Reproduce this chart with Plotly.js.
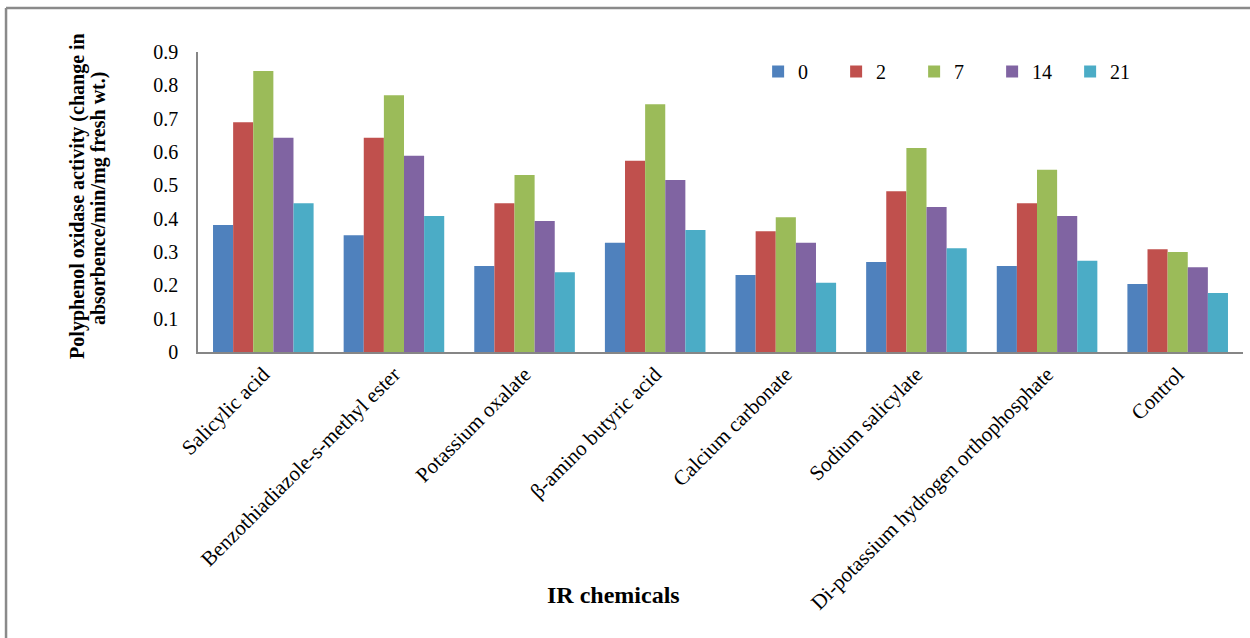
<!DOCTYPE html>
<html>
<head>
<meta charset="utf-8">
<script src="https://cdn.plot.ly/plotly-3.0.1.min.js"></script>
<style>
  html, body { margin: 0; padding: 0; background: #fff; }
  #chart { width: 1250px; height: 638px; }
</style>
</head>
<body>
<div id="chart"></div>
<script>
// IR chemicals applied
const chemicals = [
  "Salicylic acid",
  "Benzothiadiazole-s-methyl ester",
  "Potassium oxalate",
  "β-amino butyric acid",
  "Calcium carbonate",
  "Sodium salicylate",
  "Di-potassium hydrogen orthophosphate",
  "Control"
];

// Sampling days (legend entries)
const days = ["0", "2", "7", "14", "21"];

// Polyphenol oxidase activity per day
const day0  = [0.381, 0.350, 0.258, 0.328, 0.231, 0.270, 0.258, 0.204];
const day2  = [0.689, 0.643, 0.446, 0.574, 0.362, 0.482, 0.446, 0.308];
const day7  = [0.843, 0.770, 0.531, 0.743, 0.404, 0.612, 0.547, 0.300];
const day14 = [0.643, 0.589, 0.393, 0.516, 0.328, 0.435, 0.408, 0.254];
const day21 = [0.446, 0.408, 0.239, 0.366, 0.208, 0.311, 0.274, 0.177];

const seriesValues = [day0, day2, day7, day14, day21];
const colors = ["#4F81BD", "#C0504D", "#9BBB59", "#8064A2", "#4BACC6"];

const serif = "'Liberation Serif', 'Times New Roman', serif";

const traces = days.map((d, i) => ({
  type: "bar",
  name: d,
  x: chemicals,
  y: seriesValues[i],
  marker: { color: colors[i], line: { width: 0 } },
  hoverinfo: "x+y+name"
}));

const layout = {
  width: 1250,
  height: 638,
  margin: { l: 198, r: 7, t: 52, b: 286, autoexpand: false },
  paper_bgcolor: "#ffffff",
  plot_bgcolor: "#ffffff",
  barmode: "group",
  bargap: 0.23,
  bargroupgap: 0,
  showlegend: true,
  legend: {
    orientation: "h",
    x: 0.536,
    y: 1.0,
    xanchor: "left",
    yanchor: "top",
    entrywidth: 33,
    entrywidthmode: "pixels",
    itemwidth: 30,
    font: { family: serif, size: 20, color: "#000" },
    bgcolor: "rgba(0,0,0,0)"
  },
  xaxis: {
    type: "category",
    tickangle: -45,
    tickfont: { family: serif, size: 21, color: "#000" },
    showline: true,
    linecolor: "#868686",
    linewidth: 1.5,
    ticks: "",
    showgrid: false,
    zeroline: false,
    fixedrange: true
  },
  yaxis: {
    range: [0, 0.9],
    tickvals: [0, 0.1, 0.2, 0.3, 0.4, 0.5, 0.6, 0.7, 0.8, 0.9],
    ticktext: ["0", "0.1", "0.2", "0.3", "0.4", "0.5", "0.6", "0.7", "0.8", "0.9"],
    tickfont: { family: serif, size: 20, color: "#000" },
    ticklabelstandoff: 14,
    showline: true,
    linecolor: "#868686",
    linewidth: 1.5,
    ticks: "",
    showgrid: false,
    zeroline: false,
    fixedrange: true
  },
  annotations: [
    {
      text: "Polyphenol oxidase activity (change in",
      xref: "paper", yref: "paper",
      x: -0.1159, y: 0.52,
      xanchor: "center", yanchor: "middle",
      textangle: -90, showarrow: false,
      font: { family: serif, size: 20, color: "#000", weight: "bold" }
    },
    {
      text: "absorbence/min/mg fresh wt.)",
      xref: "paper", yref: "paper",
      x: -0.0957, y: 0.513,
      xanchor: "center", yanchor: "middle",
      textangle: -90, showarrow: false,
      font: { family: serif, size: 20, color: "#000", weight: "bold" }
    },
    {
      text: "IR chemicals",
      xref: "paper", yref: "paper",
      x: 0.398, y: -0.81,
      xanchor: "center", yanchor: "middle",
      showarrow: false,
      font: { family: serif, size: 24, color: "#000", weight: "bold" }
    }
  ],
  shapes: [
    // chart frame (top and left edges)
    { type: "line", xref: "paper", yref: "paper", x0: -0.1837, x1: 1.01, y0: 1.1467, y1: 1.1467,
      line: { color: "#8a8a8a", width: 2.5 } },
    { type: "line", xref: "paper", yref: "paper", x0: -0.1837, x1: -0.1837, y0: 1.1467, y1: -0.96,
      line: { color: "#8a8a8a", width: 2.5 } }
  ]
};

Plotly.newPlot("chart", traces, layout, { displayModeBar: false, staticPlot: false });
</script>
</body>
</html>
